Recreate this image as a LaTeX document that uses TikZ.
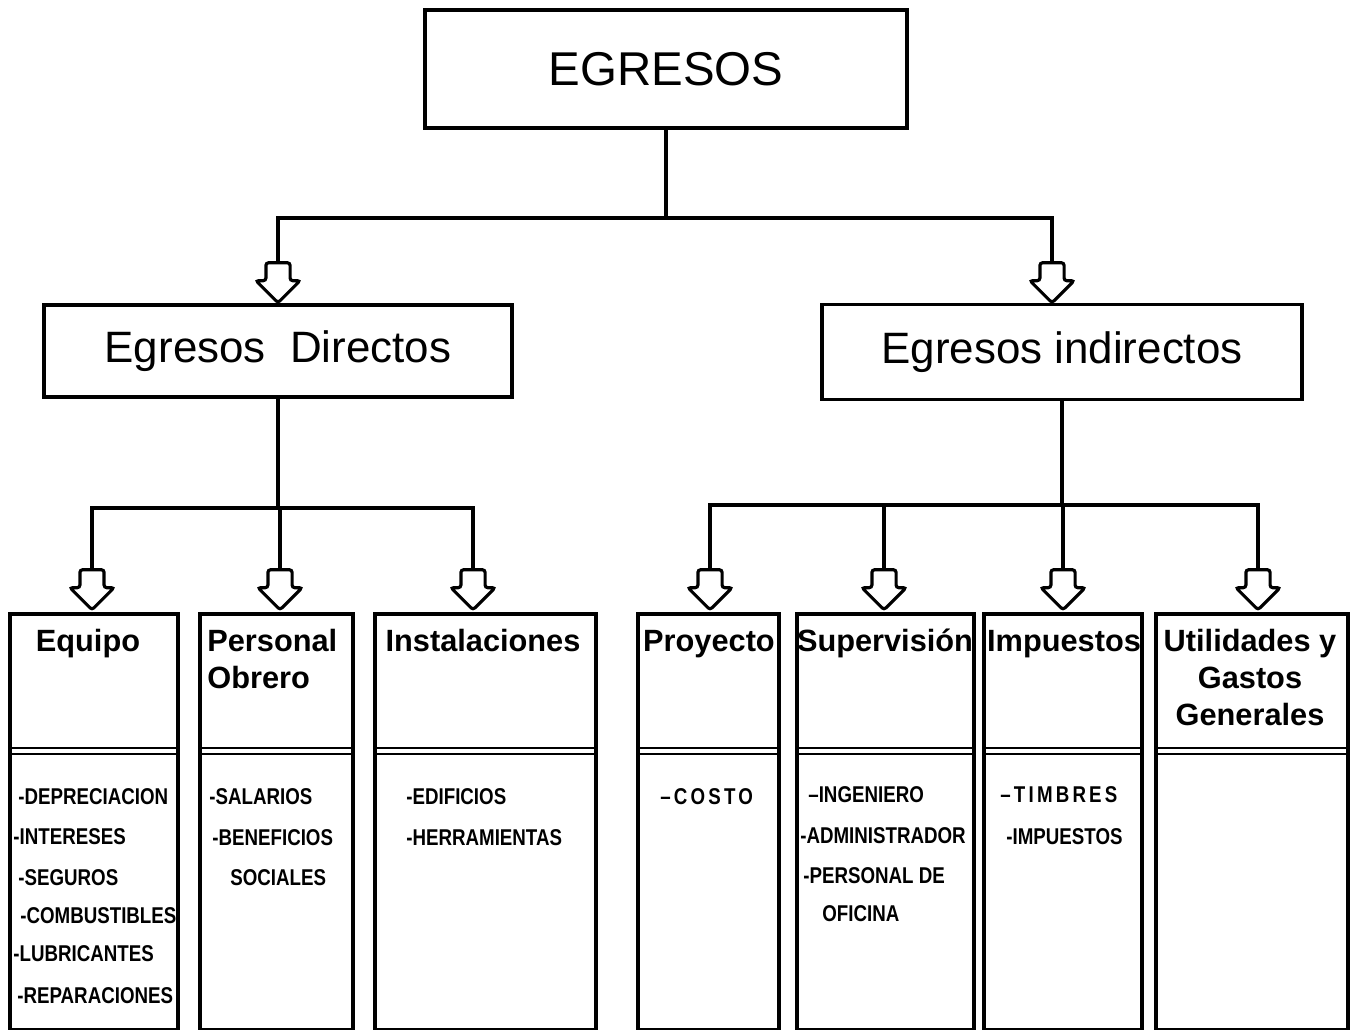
\documentclass[tikz,border=0pt]{standalone}
\usepackage{fontspec}
\setmainfont{Liberation Sans}
\newfontfamily\listfont{Liberation Sans}[FakeStretch=0.82]
\usepackage{tikz}
\usetikzlibrary{shapes.arrows, positioning}
\tikzstyle{box} = [draw, line width=2pt, inner sep=0pt]
\tikzstyle{column} = [draw, line width=2pt, inner sep=0pt, minimum height=8.32cm, anchor=north]
\tikzstyle{link} = [line width=1.8pt]
\tikzstyle{divider} = [line width=1.2pt]
\tikzstyle{hollowArrow} = [single arrow, draw, line width=1.8pt, fill=white, shape border rotate=270, single arrow head extend=0.2cm, minimum height=0.8cm, minimum width=0.8cm, inner sep=0.21cm, rounded corners=1.5pt, anchor=tip]
\tikzstyle{bigTitle} = [font=\fontsize{25}{30}\selectfont]
\tikzstyle{head} = [font=\fontsize{17.5}{21}\selectfont\bfseries, inner sep=0pt, anchor=base, align=center]
\tikzstyle{entry} = [font=\listfont\bfseries\fontsize{13}{15}\selectfont, inner sep=0pt, anchor=base west]
\tikzstyle{spaced} = [font=\listfont\bfseries\fontsize{13}{15}\selectfont\addfontfeature{LetterSpace=14}]

\begin{document}
\begin{tikzpicture}[x=0.02cm, y=-0.02cm]
\useasboundingbox (0,0) rectangle (1357,1030);

\node (egresos) [box, minimum width=9.64cm, minimum height=2.36cm, font=\fontsize{27}{30}\selectfont] at (666,69) {EGRESOS};
\node (directos) [box, bigTitle, minimum width=9.36cm, minimum height=1.84cm] at (278,351) {Egresos\ \ Directos};
\node (indirectos) [box, bigTitle, minimum width=9.6cm, minimum height=1.9cm] at (1062,352) {Egresos indirectos};

\node (toDirectos) [hollowArrow] at (278,305) {};
\node (toIndirectos) [hollowArrow] at (1052,305) {};
\coordinate (split) at (666,218);
\draw [link] (egresos.south) -- (split);
\draw [link] (toDirectos.north) |- (split) -| (toIndirectos.north);

\node (equipo) [column, minimum width=3.36cm] at (94,612) {};
\node (personal) [column, minimum width=3.06cm] at (276.5,612) {};
\node (instalaciones) [column, minimum width=4.42cm] at (485.5,612) {};
\node (proyecto) [column, minimum width=2.82cm] at (708.5,612) {};
\node (supervision) [column, minimum width=3.54cm] at (885.5,612) {};
\node (impuestos) [column, minimum width=3.16cm] at (1063,612) {};
\node (utilidades) [column, minimum width=3.84cm] at (1252,612) {};
\foreach \col in {equipo, personal, instalaciones, proyecto, supervision, impuestos, utilidades} {
  \draw [divider] ([yshift=-2.72cm]\col.north west) -- ([yshift=-2.72cm]\col.north east);
  \draw [divider] ([yshift=-2.84cm]\col.north west) -- ([yshift=-2.84cm]\col.north east);
}

\foreach \name/\x in {aEquipo/92, aPersonal/280, aInstalaciones/473, aProyecto/710, aSupervision/884, aImpuestos/1063, aUtilidades/1258}
  \node (\name) [hollowArrow] at (\x,612) {};

\coordinate (splitDirectos) at (278,508);
\draw [link] (directos.south) -- (splitDirectos);
\draw [link] (aEquipo.north) |- (splitDirectos) -| (aInstalaciones.north);
\draw [link] (aPersonal.north) -- (aPersonal.north |- splitDirectos);

\coordinate (splitIndirectos) at (1062,505);
\draw [link] (indirectos.south) -- (splitIndirectos);
\draw [link] (aProyecto.north) |- (splitIndirectos) -| (aUtilidades.north);
\draw [link] (aSupervision.north) -- (aSupervision.north |- splitIndirectos);
\draw [link] (aImpuestos.north) -- (aImpuestos.north |- splitIndirectos);

\node (hEquipo) [head] at (88,652) {Equipo};
\node (hPersonal) [head, anchor=north west, align=left] at (207,629) {Personal\\Obrero};
\node (hInstalaciones) [head] at (483,652) {Instalaciones};
\node (hProyecto) [head] at (709,652) {Proyecto};
\node (hSupervision) [head] at (885,652) {Supervisión};
\node (hImpuestos) [head] at (1064,652) {Impuestos};
\node (hUtilidades) [head, anchor=north] at (1250,629) {Utilidades y\\Gastos\\Generales};

\foreach \x/\y/\txt [count=\i] in {18/805/-DEPRECIACION, 13/844/-INTERESES, 18/885/-SEGUROS, 20/923/-COMBUSTIBLES, 13/961/-LUBRICANTES, 17/1003/-REPARACIONES}
  \node (eq\i) [entry] at (\x,\y) {\txt};
\foreach \x/\y/\txt [count=\i] in {209/805/-SALARIOS, 212/845/-BENEFICIOS, 230/885/SOCIALES}
  \node (po\i) [entry] at (\x,\y) {\txt};
\foreach \x/\y/\txt [count=\i] in {406/805/-EDIFICIOS, 406/845/-HERRAMIENTAS}
  \node (in\i) [entry] at (\x,\y) {\txt};
\node (pr1) [entry, spaced] at (660,805) {–COSTO};
\foreach \x/\y/\txt [count=\i] in {808/803/–INGENIERO, 800/843/-ADMINISTRADOR, 803/883/-PERSONAL DE, 822/921/OFICINA}
  \node (su\i) [entry] at (\x,\y) {\txt};
\node (im1) [entry, spaced] at (1000,803) {–TIMBRES};
\node (im2) [entry] at (1006,844) {-IMPUESTOS};
\end{tikzpicture}
\end{document}
